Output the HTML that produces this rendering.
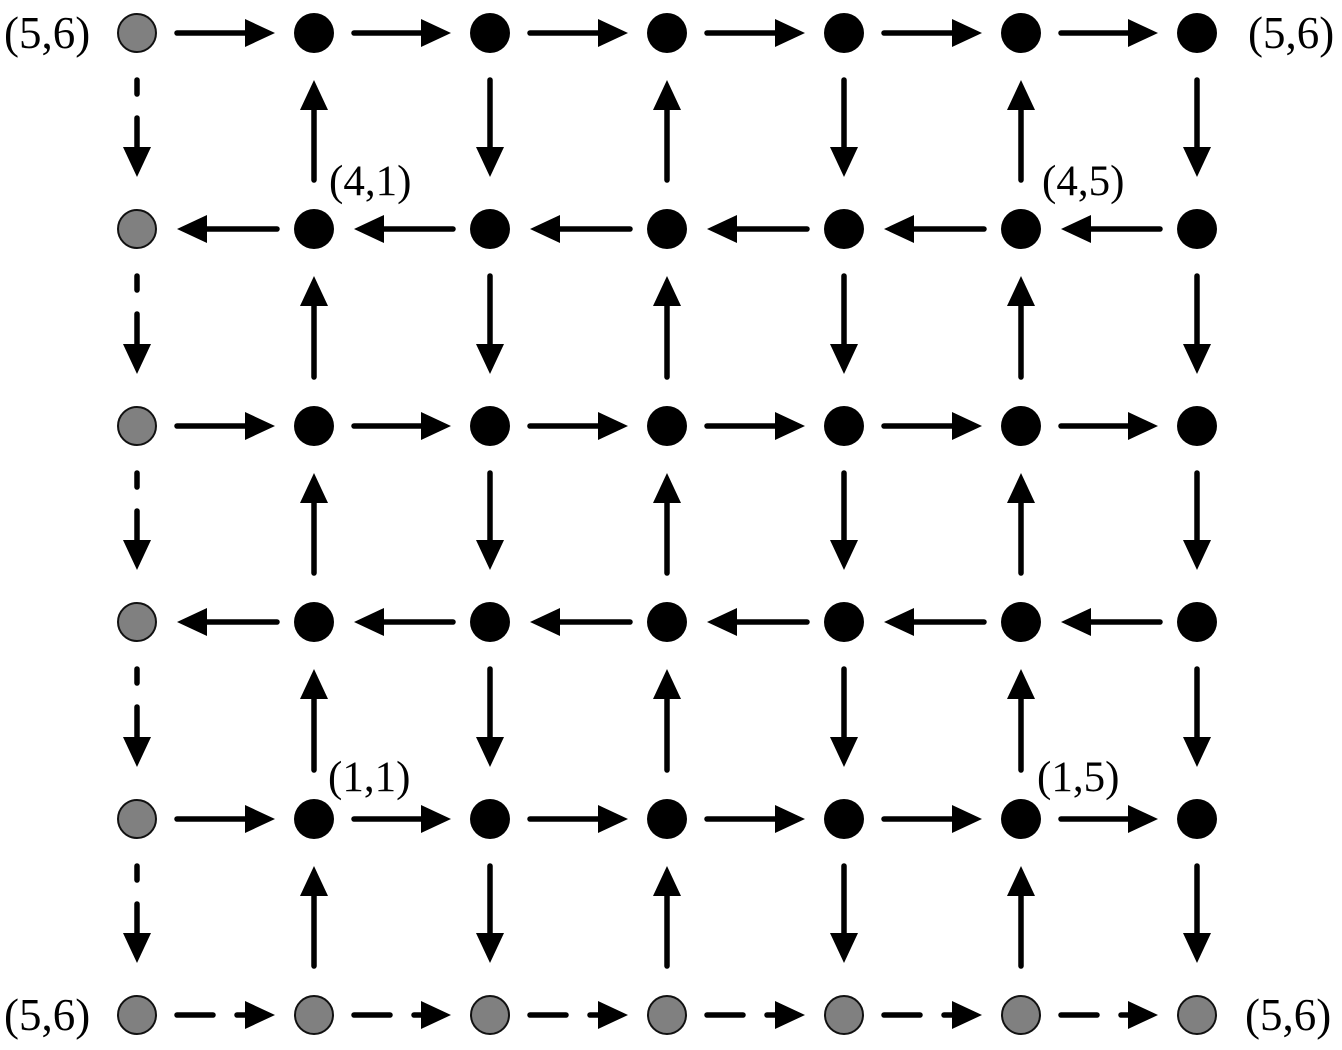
<!DOCTYPE html>
<html><head><meta charset="utf-8"><style>
html,body{margin:0;padding:0;background:#fff}
svg{display:block}
text{font-family:"Liberation Serif",serif;fill:#000}
</style></head><body>
<svg id="s" width="1342" height="1050" viewBox="0 0 1342 1050" xmlns="http://www.w3.org/2000/svg">
<text x="4" y="48" font-size="45">(5,6)</text>
<text x="1248" y="48" font-size="45">(5,6)</text>
<text x="4" y="1030" font-size="45">(5,6)</text>
<text x="1245" y="1030" font-size="45">(5,6)</text>
<text x="329" y="195" font-size="43">(4,1)</text>
<text x="1042" y="195" font-size="43">(4,5)</text>
<text x="328" y="791" font-size="43">(1,1)</text>
<text x="1037" y="791" font-size="43">(1,5)</text>
</svg>
<script>
var s=document.getElementById('s'),NS='http://www.w3.org/2000/svg';
var X=[137,314,490,667,844,1021,1197],Y=[33,229,426,622,819,1015];
function el(t,a){var e=document.createElementNS(NS,t);for(var k in a)e.setAttribute(k,a[k]);s.appendChild(e);}
function line(x1,y1,x2,y2){el('line',{x1:x1,y1:y1,x2:x2,y2:y2,stroke:'#000','stroke-width':5.5,'stroke-linecap':'round'});}
function head(tx,ty,dx,dy){var L=30,W=14;var bx=tx-dx*L,by=ty-dy*L;
 el('polygon',{points:tx+','+ty+' '+(bx-dy*W)+','+(by+dx*W)+' '+(bx+dy*W)+','+(by-dx*W),fill:'#000'});}
function arrow(x1,y1,x2,y2){var dx=Math.sign(x2-x1),dy=Math.sign(y2-y1);
 line(x1,y1,x2-dx*28,y2-dy*28);head(x2,y2,dx,dy);}
for(var r=0;r<6;r++){for(var c=0;c<6;c++){
 var right=(r%2==0);
 if(r==5){var a=X[c]+40;line(a,Y[r],a+36,Y[r]);line(a+60,Y[r],a+72,Y[r]);head(X[c+1]-39,Y[r],1,0);continue;}
 if(right){arrow(X[c]+40,Y[r],X[c+1]-39,Y[r]);}
 else{arrow(X[c+1]-37,Y[r],X[c]+40,Y[r]);}
}}
for(var r=0;r<5;r++){for(var c=0;c<7;c++){
 if(c==0){var a=Y[r]+47;line(X[0],a,X[0],a+14);line(X[0],a+38,X[0],a+90);head(X[0],Y[r+1]-52,0,1);continue;}
 if(c%2==1){arrow(X[c],Y[r+1]-49,X[c],Y[r]+47);}
 else{arrow(X[c],Y[r]+47,X[c],Y[r+1]-52);}
}}
for(var r=0;r<6;r++)for(var c=0;c<7;c++){
 var g=(c==0||r==5);
 el('circle',{cx:X[c],cy:Y[r],r:g?19:20,fill:g?'#808080':'#000',stroke:'#111','stroke-width':g?2:0});
}
</script>
</body></html>
